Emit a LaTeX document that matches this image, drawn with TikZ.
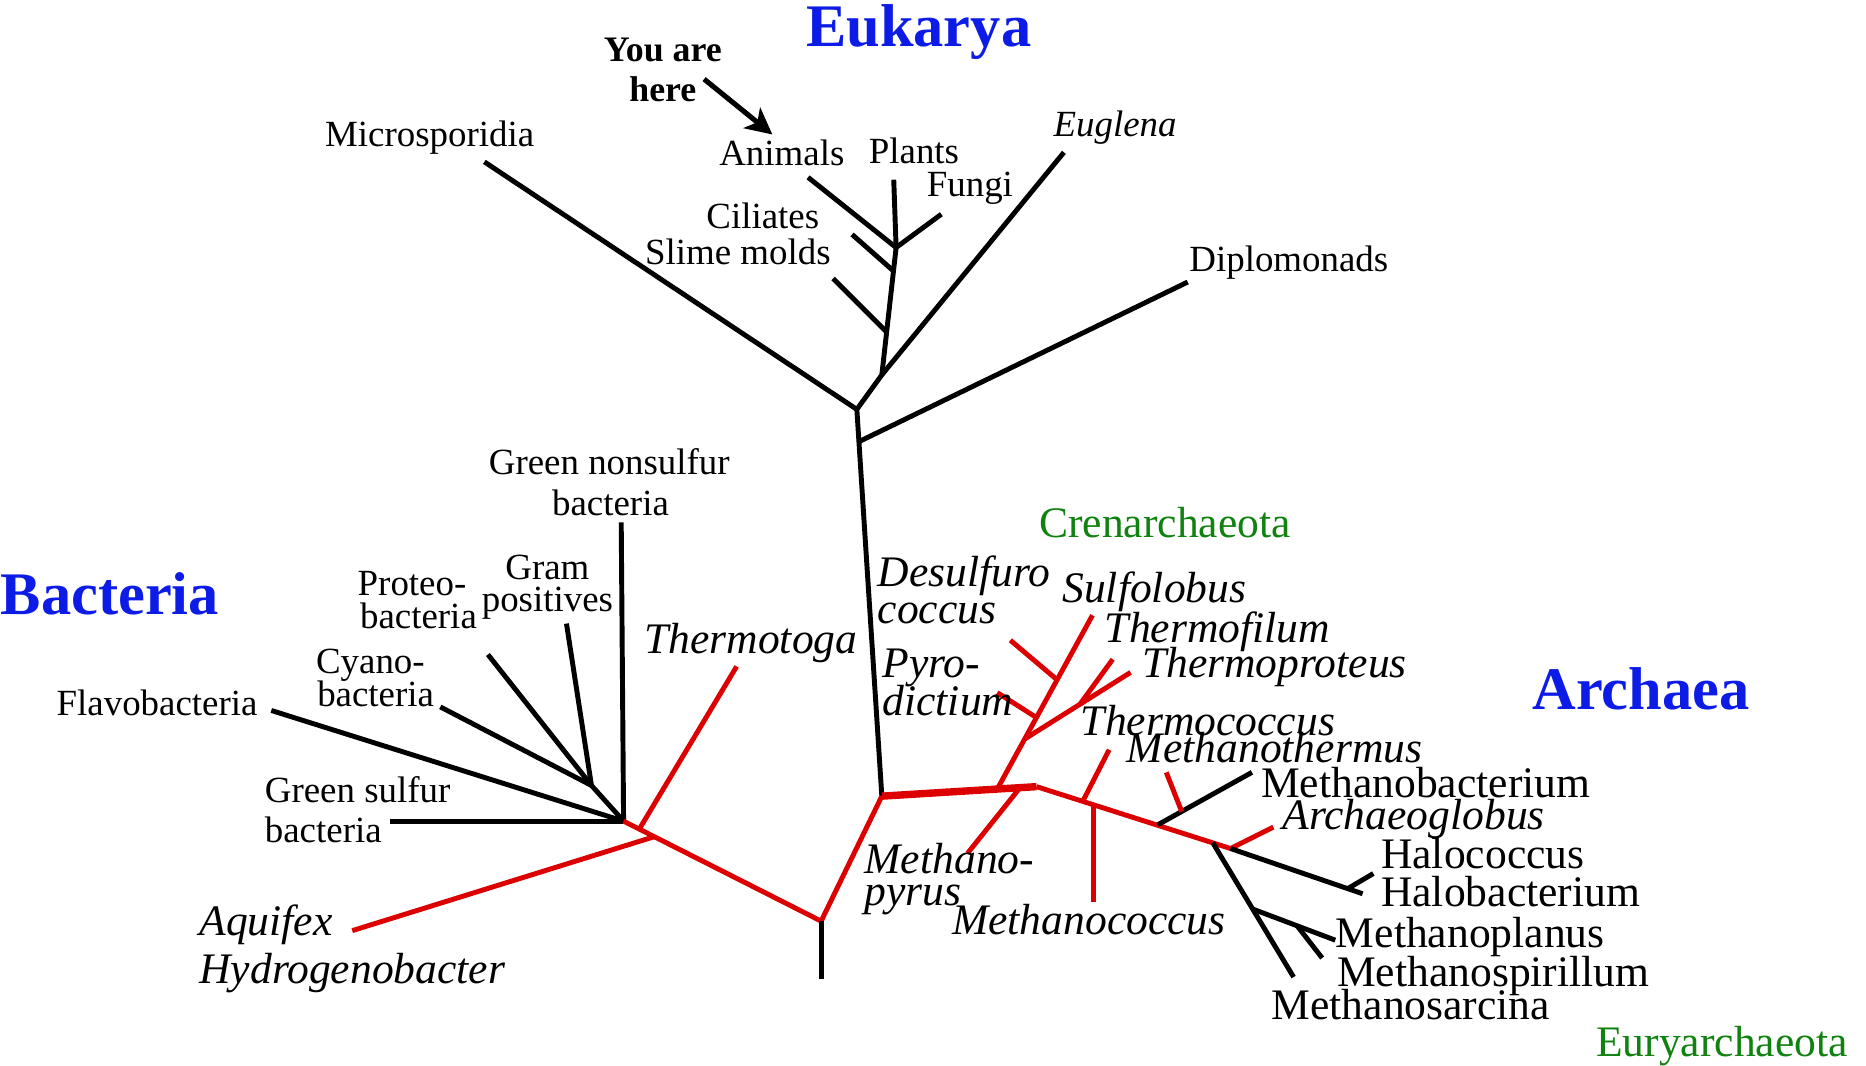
\documentclass[tikz,border=0pt]{standalone}
\usepackage{fontspec}
\setmainfont{Liberation Serif}
\usetikzlibrary{arrows.meta}
\definecolor{domblue}{RGB}{12, 28, 230}
\definecolor{treered}{RGB}{220, 0, 0}
\definecolor{phylgreen}{RGB}{16, 130, 16}
\tikzset{
  % Branches
  blackbranch/.style = {line width=1.4pt, draw=black},
  redbranch/.style   = {line width=1.4pt, draw=treered},
  thickred/.style    = {line width=2.1pt, draw=treered},
  herearrow/.style   = {-{Stealth[length=7.5pt, width=7.5pt, inset=2pt]}, line width=1.45pt},
  % Labels
  smalllab/.style  = {font=\fontsize{10.5}{12}\selectfont, inner sep=0pt, anchor=base},
  smallit/.style   = {font=\fontsize{10.5}{12}\selectfont\itshape, inner sep=0pt, anchor=base},
  biglab/.style    = {font=\fontsize{12.4}{14}\selectfont, inner sep=0pt, anchor=base},
  bigit/.style     = {font=\fontsize{12.4}{14}\selectfont\itshape, inner sep=0pt, anchor=base},
  phylumlab/.style = {biglab, text=phylgreen},
  domainlab/.style = {font=\fontsize{17.2}{20}\selectfont\bfseries, text=domblue, inner sep=0pt, anchor=base},
  herelab/.style   = {font=\fontsize{10.2}{12}\selectfont\bfseries, inner sep=0pt, anchor=base},
}

\begin{document}
\begin{tikzpicture}[x=0.0119cm, y=-0.0119cm]
  \useasboundingbox (0,0) rectangle (1568,895);
  % Eukarya: junctions and tips
  \coordinate (ebase)  at (741,669);
  \coordinate (emicj)  at (720,344);
  \coordinate (edipj)  at (722,371);
  \coordinate (ecrown) at (741,315);
  \coordinate (eslmj)  at (745,279);
  \coordinate (ecilj)  at (750,227);
  \coordinate (eapf)   at (753,208);
  \coordinate (tmicro) at (407,136);
  \coordinate (tdiplo) at (998,237);
  \coordinate (teugl)  at (894,128);
  \coordinate (tslime) at (700,234);
  \coordinate (tcil)   at (716,197);
  \coordinate (tanim)  at (679,149);
  \coordinate (tplant) at (751,151);
  \coordinate (tfungi) at (791,180);
  \draw[blackbranch] (ebase) -- (emicj) -- (ecrown) -- (eapf);
  \draw[blackbranch] (emicj) -- (tmicro);
  \draw[blackbranch] (edipj) -- (tdiplo);
  \draw[blackbranch] (ecrown) -- (teugl);
  \draw[blackbranch] (eslmj) -- (tslime);
  \draw[blackbranch] (ecilj) -- (tcil);
  \draw[blackbranch] (eapf) -- (tanim);
  \draw[blackbranch] (eapf) -- (tplant);
  \draw[blackbranch] (eapf) -- (tfungi);
  % Bacteria
  \coordinate (bnode)   at (524,690);
  \coordinate (bsub)    at (497,660);
  \coordinate (tgsulf)  at (328,690);
  \coordinate (tflavo)  at (228,597);
  \coordinate (tcyano)  at (370,594);
  \coordinate (tproteo) at (410,550);
  \coordinate (tgram)   at (476,524);
  \coordinate (tgnons)  at (522,439);
  \coordinate (root)    at (690,774);
  \coordinate (rootend) at (690,823);
  \coordinate (bthermo) at (537,697);
  \coordinate (tthermo) at (619,560);
  \coordinate (baqui)   at (550,703);
  \coordinate (taqui)   at (296,782);
  \draw[blackbranch] (tgsulf) -- (bnode);
  \draw[blackbranch] (tflavo) -- (bnode);
  \draw[blackbranch] (tgnons) -- (bnode);
  \draw[blackbranch] (bsub) -- (bnode);
  \draw[blackbranch] (tcyano) -- (bsub);
  \draw[blackbranch] (tproteo) -- (bsub);
  \draw[blackbranch] (tgram) -- (bsub);
  \draw[redbranch] (bnode) -- (root) -- (ebase);
  \draw[redbranch] (bthermo) -- (tthermo);
  \draw[redbranch] (baqui) -- (taqui);
  \draw[blackbranch] (root) -- (rootend);
  % Archaea
  \coordinate (ajoin)   at (871,661);
  \coordinate (aend)    at (1034,713);
  \coordinate (acren)   at (838,663);
  \coordinate (c1)      at (861,621);
  \coordinate (c2)      at (871,603);
  \coordinate (c3)      at (888,571);
  \coordinate (c4)      at (908,591);
  \coordinate (tsulf)   at (918,517);
  \coordinate (tpyro)   at (838,582);
  \coordinate (tdesulf) at (849,538);
  \coordinate (tthprot) at (950,565);
  \coordinate (tthfil)  at (935,554);
  \coordinate (apyr)    at (857,662);
  \coordinate (tpyrus)  at (813,717);
  \coordinate (athc)    at (910,673);
  \coordinate (tthc)    at (932,630);
  \coordinate (amcc)    at (919,676);
  \coordinate (tmcc)    at (919,758);
  \coordinate (amb)     at (973,693);
  \coordinate (tmb)     at (1052,649);
  \coordinate (amth)    at (993,682);
  \coordinate (tmth)    at (980,649);
  \coordinate (tarchg)  at (1070,695);
  \coordinate (thalob)  at (1145,751);
  \coordinate (ahaloc)  at (1132,747);
  \coordinate (thaloc)  at (1154,734);
  \coordinate (asarc)   at (1019,708);
  \coordinate (tsarc)   at (1087,821);
  \coordinate (aplan)   at (1053,764);
  \coordinate (tplan)   at (1122,790);
  \coordinate (aspir)   at (1090,778);
  \coordinate (tspir)   at (1111,805);
  \draw[thickred] (ebase) -- (ajoin);
  \draw[redbranch] (ajoin) -- (aend);
  \draw[redbranch] (acren) -- (tsulf);
  \draw[redbranch] (c2) -- (tpyro);
  \draw[redbranch] (c3) -- (tdesulf);
  \draw[redbranch] (c1) -- (tthprot);
  \draw[redbranch] (c4) -- (tthfil);
  \draw[redbranch] (apyr) -- (tpyrus);
  \draw[redbranch] (athc) -- (tthc);
  \draw[redbranch] (amcc) -- (tmcc);
  \draw[blackbranch] (amb) -- (tmb);
  \draw[redbranch] (amth) -- (tmth);
  \draw[redbranch] (aend) -- (tarchg);
  \draw[blackbranch] (aend) -- (thalob);
  \draw[blackbranch] (ahaloc) -- (thaloc);
  \draw[blackbranch] (asarc) -- (tsarc);
  \draw[blackbranch] (aplan) -- (tplan);
  \draw[blackbranch] (aspir) -- (tspir);
  % Eukarya labels
  \node[domainlab] (leuk) at (772,39) {Eukarya};
  \node[herelab] (lyou) at (557,52) {You are};
  \node[herelab] (lhere) at (557,85) {here};
  \coordinate (heretip) at (649,113);
  \draw[herearrow] ([xshift=2pt,yshift=-1pt]lhere.north east) -- (heretip);
  \node[smalllab] (lmicro) at (361,123) {Microsporidia};
  \node[smalllab] (lanim) at (657,139) {Animals};
  \node[smalllab] (lplant) at (768,137) {Plants};
  \node[smalllab] (lfungi) at (815,165) {Fungi};
  \node[smalllab] (lcil) at (641,192) {Ciliates};
  \node[smalllab] (lslime) at (620,222) {Slime molds};
  \node[smallit] (leugl) at (937,115) {Euglena};
  \node[smalllab] (ldiplo) at (1083,228) {Diplomonads};
  % Bacteria labels
  \node[domainlab, anchor=base west] (lbac) at (0,516) {Bacteria};
  \node[smalllab] (lgnons) at (512,399) {Green nonsulfur};
  \node[smalllab] (lgnons2) at (513,433) {bacteria};
  \node[smalllab] (lgram) at (460,487) {Gram};
  \node[smalllab] (lgram2) at (460,514) {positives};
  \node[smalllab, anchor=base west] (lproteo) at (300,500) {Proteo-};
  \node[smalllab, anchor=base west] (lproteo2) at (302,528) {bacteria};
  \node[smalllab, anchor=base west] (lcyano) at (265,566) {Cyano-};
  \node[smalllab, anchor=base west] (lcyano2) at (266,594) {bacteria};
  \node[smalllab] (lflavo) at (132,601) {Flavobacteria};
  \node[smalllab, anchor=base west] (lgsulf) at (222,674) {Green sulfur};
  \node[smalllab, anchor=base west] (lgsulf2) at (222,708) {bacteria};
  \node[bigit] (lthermo) at (631,549) {Thermotoga};
  \node[bigit, anchor=base west] (laqui) at (167,786) {Aquifex};
  \node[bigit, anchor=base west] (lhydro) at (167,826) {Hydrogenobacter};
  % Archaea labels
  \node[domainlab] (larch) at (1379,596) {Archaea};
  \node[phylumlab] (lcren) at (979,452) {Crenarchaeota};
  \node[phylumlab] (leury) at (1447,888) {Euryarchaeota};
  \node[bigit, anchor=base west] (ldesulf) at (737,493) {Desulfuro};
  \node[bigit, anchor=base west] (ldesulf2) at (737,524) {coccus};
  \node[bigit, anchor=base west] (lpyro) at (741,569) {Pyro-};
  \node[bigit, anchor=base west] (lpyro2) at (741,601) {dictium};
  \node[bigit] (lsulf) at (970,506) {Sulfolobus};
  \node[bigit] (lthfil) at (1023,540) {Thermofilum};
  \node[bigit] (lthprot) at (1071,569) {Thermoproteus};
  \node[bigit] (lthc) at (1015,618) {Thermococcus};
  \node[bigit] (lmth) at (1071,641) {Methanothermus};
  \node[biglab] (lmb) at (1198,670) {Methanobacterium};
  \node[bigit] (larchg) at (1188,697) {Archaeoglobus};
  \node[biglab, anchor=base west] (lhaloc) at (1160,730) {Halococcus};
  \node[biglab, anchor=base west] (lhalob) at (1160,762) {Halobacterium};
  \node[biglab, anchor=base west] (lplan) at (1122,796) {Methanoplanus};
  \node[biglab, anchor=base west] (lspir) at (1123,829) {Methanospirillum};
  \node[biglab, anchor=base west] (lsarc) at (1068,857) {Methanosarcina};
  \node[bigit, anchor=base west] (lmpyr) at (726,734) {Methano-};
  \node[bigit, anchor=base west] (lmpyr2) at (726,761) {pyrus};
  \node[bigit] (lmcc) at (915,785) {Methanococcus};
\end{tikzpicture}
\end{document}
